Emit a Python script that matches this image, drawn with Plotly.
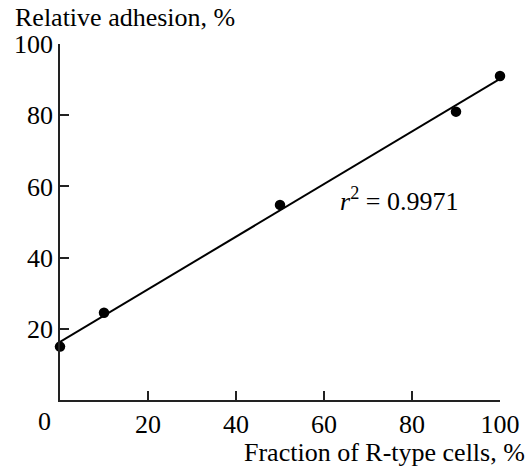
import numpy as np
import plotly.graph_objects as go

# Data
fraction_r = [0, 10, 50, 90, 100]
adhesion = [15, 24.5, 54.8, 81, 91]
x_ticks = [20, 40, 60, 80, 100]
y_ticks = [20, 40, 60, 80, 100]
r2_text = "<i>r</i><sup>2</sup> = 0.9971"

slope, intercept = np.polyfit(fraction_r, adhesion, 1)
fit_x = [0, 100]
fit_y = [intercept + slope * v for v in fit_x]

FONT = "Liberation Serif, Times New Roman, serif"
fig = go.Figure()
fig.add_trace(go.Scatter(x=fit_x, y=fit_y, mode="lines",
                         line=dict(color="black", width=2), cliponaxis=False,
                         showlegend=False, hoverinfo="skip"))
fig.add_trace(go.Scatter(x=fraction_r, y=adhesion, mode="markers",
                         marker=dict(color="black", size=10.5), cliponaxis=False,
                         showlegend=False))

axis_common = dict(showgrid=False, zeroline=False, showline=True,
                   linecolor="#222", linewidth=1.5, ticks="inside",
                   ticklen=9, tickwidth=1.5, tickcolor="#222",
                   tickfont=dict(family=FONT, size=26, color="black"))
fig.update_xaxes(range=[0, 100], tickvals=x_ticks, ticklabelstandoff=0, **axis_common)
fig.update_yaxes(range=[0, 100], tickvals=y_ticks, ticklabelstandoff=0, **axis_common)

fig.add_annotation(text="0", xref="x", yref="paper", x=0, y=0, xshift=-16,
                   yshift=-5, xanchor="center", yanchor="top", showarrow=False,
                   font=dict(family=FONT, size=26, color="black"))
fig.add_annotation(text="Relative adhesion, %", xref="paper", yref="paper",
                   x=-0.107, y=1.0, yshift=27, xanchor="left", yanchor="middle",
                   showarrow=False, font=dict(family=FONT, size=26, color="black"))
fig.add_annotation(text="Fraction of R-type cells, %", xref="paper", yref="paper",
                   x=1.04, y=0, yshift=-52, xshift=9, xanchor="right", yanchor="middle",
                   showarrow=False, font=dict(family=FONT, size=26, color="black"))
fig.add_annotation(text=r2_text, xref="x", yref="y", x=63.2, y=56.4,
                   xanchor="left", yanchor="middle", showarrow=False,
                   font=dict(family=FONT, size=26, color="black"))

fig.update_layout(width=532, height=466, margin=dict(l=60, r=23, t=44, b=66),
                  plot_bgcolor="white", paper_bgcolor="white")
fig.write_html("out.html")
